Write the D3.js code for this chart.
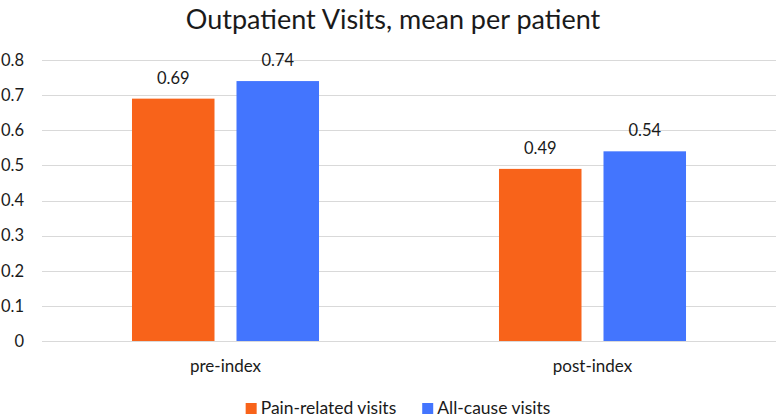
<!DOCTYPE html>
<html>
<head>
<meta charset="utf-8">
<script src="https://cdn.jsdelivr.net/npm/d3@7"></script>
<style>
  html, body { margin: 0; padding: 0; background: #fff; }
  svg { display: block; }
  text { font-family: Lato, "Open Sans", sans-serif; fill: #1a1a1a; }
</style>
</head>
<body>
<svg id="chart" width="778" height="420"></svg>
<script>
const categories = ["pre-index", "post-index"];
const seriesNames = ["Pain-related visits", "All-cause visits"];
const painRelated = [0.69, 0.49];
const allCause = [0.74, 0.54];
const seriesValues = [painRelated, allCause];
const colors = ["#F8631A", "#4375FE"];
const yTicks = [0, 0.1, 0.2, 0.3, 0.4, 0.5, 0.6, 0.7, 0.8];
const titleText = "Outpatient Visits, mean per patient";

const svg = d3.select("#chart");
const W = 778, H = 420;
const plot = { left: 42, right: 776, top: 60, bottom: 341 };

const y = d3.scaleLinear().domain([0, 0.8]).range([plot.bottom, plot.top]);
const x0 = d3.scaleBand().domain(categories).range([plot.left, plot.right]).paddingInner(0).paddingOuter(0);
const bw0 = x0.bandwidth();
const x1 = d3.scaleBand().domain(seriesNames)
  .range([bw0 * 0.2452, bw0 * 0.7548]).paddingInner(0.2105).paddingOuter(0);

// title
svg.append("text")
  .attr("x", 393).attr("y", 29)
  .attr("text-anchor", "middle")
  .style("font-size", "27px")
  .text(titleText);

// gridlines
svg.append("g").selectAll("line").data(yTicks).join("line")
  .attr("x1", plot.left).attr("x2", plot.right)
  .attr("y1", d => Math.round(y(d)) + 0.5).attr("y2", d => Math.round(y(d)) + 0.5)
  .attr("stroke", "#d9d9d9").attr("stroke-width", 1);

// y-axis labels
const yAxis = d3.axisLeft(y).tickValues(yTicks).tickSize(0).tickPadding(0)
  .tickFormat(d => d === 0 ? "0" : d3.format(".1f")(d));
const yg = svg.append("g").attr("transform", `translate(24,0)`).call(yAxis);
yg.select(".domain").remove();
yg.selectAll("text").style("font-size", "16.5px").style("font-family", "Lato, sans-serif").attr("fill", "#1a1a1a");

// bars
const groups = svg.append("g").selectAll("g").data(categories).join("g")
  .attr("transform", d => `translate(${x0(d)},0)`);

groups.selectAll("rect")
  .data((c, i) => seriesNames.map((s, k) => ({ s, k, v: seriesValues[k][i] })))
  .join("rect")
  .attr("x", d => x1(d.s))
  .attr("width", x1.bandwidth())
  .attr("y", d => y(d.v))
  .attr("height", d => y(0) - y(d.v))
  .attr("fill", d => colors[d.k]);

groups.selectAll("text.val")
  .data((c, i) => seriesNames.map((s, k) => ({ s, k, v: seriesValues[k][i] })))
  .join("text")
  .attr("class", "val")
  .attr("x", d => x1(d.s) + x1.bandwidth() / 2)
  .attr("y", d => y(d.v) - 15)
  .attr("text-anchor", "middle")
  .style("font-size", "16.5px")
  .text(d => d3.format(".2f")(d.v));

// x axis baseline
svg.append("line")
  .attr("x1", plot.left).attr("x2", plot.right)
  .attr("y1", Math.round(y(0)) + 0.5).attr("y2", Math.round(y(0)) + 0.5)
  .attr("stroke", "#d9d9d9");

// x axis labels
const xAxis = d3.axisBottom(x0).tickSize(0).tickPadding(0);
const xg = svg.append("g").attr("transform", `translate(0,${plot.bottom})`).call(xAxis);
xg.select(".domain").remove();
xg.selectAll("text").attr("dy", null).attr("y", 31)
  .style("font-size", "17px").style("font-family", "Lato, sans-serif").attr("fill", "#1a1a1a");

// legend
const legend = svg.append("g");
const items = legend.selectAll("g").data(seriesNames).join("g");
items.append("rect").attr("width", 11).attr("height", 11).attr("y", -11)
  .attr("fill", (d, i) => colors[i]);
items.append("text").attr("x", 15).attr("y", 0).style("font-size", "17.5px").text(d => d);
let xpos = 0;
const gap = 26;
items.each(function () {
  const g = d3.select(this);
  g.attr("transform", `translate(${xpos},0)`);
  xpos += 15 + g.select("text").node().getComputedTextLength() + gap;
});
const totalW = xpos - gap;
legend.attr("transform", `translate(${398 - totalW / 2},414)`);
</script>
</body>
</html>
